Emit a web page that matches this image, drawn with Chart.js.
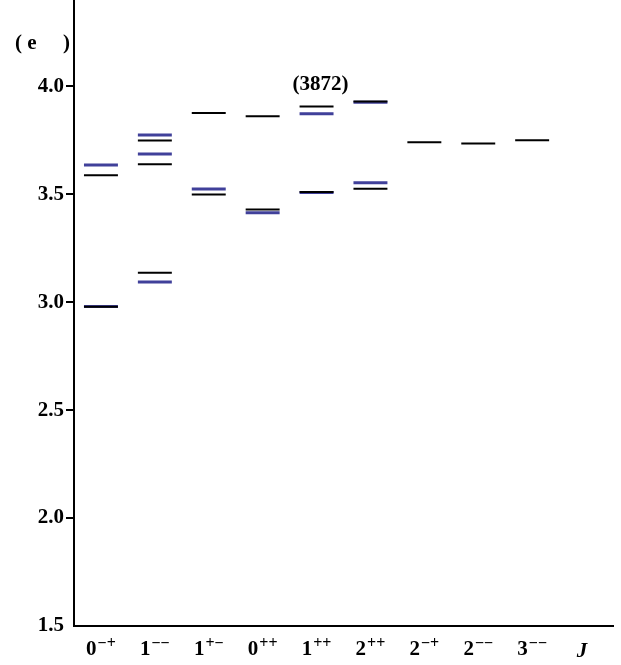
<!DOCTYPE html>
<html>
<head>
<meta charset="utf-8">
<script src="https://cdn.jsdelivr.net/npm/chart.js@4.4.1/dist/chart.umd.min.js"></script>
<style>
html, body { margin: 0; padding: 0; background: #fff; }
</style>
</head>
<body>
<canvas id="spectrum" width="621" height="665"></canvas>
<script>
// J^PC categories: spin followed by P and C signs; last slot holds the axis name
const categories = ['0\u2212+', '1\u2212\u2212', '1+\u2212', '0++', '1++', '2++', '2\u2212+', '2\u2212\u2212', '3\u2212\u2212', 'J'];

// black levels (GeV), one list per category
const blackLevels = [
   [2.979, 3.588],
   [3.136, 3.639, 3.749],
   [3.499, 3.876],
   [3.430, 3.862],
   [3.510, 3.907],
   [3.526, 3.930],
   [3.741],
   [3.735],
   [3.750]
];

// blue levels (GeV)
const blueLevels = [
   [2.980, 3.636],
   [3.094, 3.687, 3.775],
   [3.525],
   [3.414],
   [3.508, 3.873],
   [3.553, 3.926],
   [],
   [],
   []
];

const yTicks = [1.5, 2.0, 2.5, 3.0, 3.5, 4.0];
const note3872 = { label: '(3872)', category: 4, mass: 4.008 };

const HALF = 0.315; // half width of a level line, in category units
const serif = '"Liberation Serif", "Times New Roman", serif';

// every level becomes a short segment, separated by gaps
function segments(levels) {
   let pts = [];
   levels.forEach((list, i) => {
      list.forEach(m => {
         pts.push({ x: i - HALF, y: m });
         pts.push({ x: i + HALF, y: m });
         pts.push({ x: i, y: null });
      });
   });
   return pts;
}

const notes = {
   id: 'notes',
   afterDraw(chart) {
      const c = chart.ctx;
      const xs = chart.scales.x, ys = chart.scales.y;
      const area = chart.chartArea;
      c.save();
      c.fillStyle = '#000';

      // category labels with raised P C signs
      const base = area.bottom + 29;
      categories.forEach((cat, i) => {
         const px = xs.getPixelForValue(i);
         if (cat === 'J') {
            c.font = 'italic bold 21px ' + serif;
            c.textAlign = 'center';
            c.textBaseline = 'alphabetic';
            c.fillText(cat, px - 4, base + 2);
            return;
         }
         const head = cat.charAt(0), sup = cat.slice(1);
         c.font = 'bold 21px ' + serif;
         const wHead = c.measureText(head).width;
         c.font = 'bold 16px ' + serif;
         const wSup = c.measureText(sup).width;
         const x0 = px - (wHead + 1 + wSup) / 2;
         c.textAlign = 'left';
         c.textBaseline = 'alphabetic';
         c.font = 'bold 21px ' + serif;
         c.fillText(head, x0, base);
         c.font = 'bold 16px ' + serif;
         c.fillText(sup, x0 + wHead + 1, base - 7);
      });

      c.font = 'bold 21px ' + serif;
      c.textBaseline = 'middle';
      c.textAlign = 'center';
      c.fillText(note3872.label, xs.getPixelForValue(note3872.category) + 4, ys.getPixelForValue(note3872.mass));
      // unit label (glyphs missing in the original)
      const yU = ys.getPixelForValue(4.2);
      c.textAlign = 'left';
      c.fillText('( e', area.left - 59, yU);
      c.fillText(')', area.left - 11, yU);
      c.restore();
   }
};

const chart = new Chart(document.getElementById('spectrum'), {
   type: 'line',
   data: {
      datasets: [
         {
            label: 'black',
            data: segments(blackLevels),
            borderColor: '#000000',
            borderWidth: 2,
            borderCapStyle: 'butt',
            pointRadius: 0,
            spanGaps: false
         },
         {
            label: 'blue',
            data: segments(blueLevels),
            borderColor: '#40409a',
            borderWidth: 3,
            borderCapStyle: 'butt',
            pointRadius: 0,
            spanGaps: false
         }
      ]
   },
   options: {
      responsive: false,
      animation: false,
      layout: { padding: { top: 0, right: 8, left: 0, bottom: 0 } },
      plugins: {
         legend: { display: false },
         tooltip: { enabled: false }
      },
      scales: {
         x: {
            type: 'linear',
            min: -0.5,
            max: 9.5,
            afterBuildTicks: s => { s.ticks = categories.map((c, i) => ({ value: i })); },
            afterFit: s => { s.height = 39; s.paddingLeft = 0; s.paddingRight = 0; },
            grid: { display: false, drawTicks: false },
            border: { display: true, color: '#000', width: 2 },
            ticks: {
               autoSkip: false,
               maxRotation: 0,
               callback: () => ''
            }
         },
         y: {
            min: 1.5,
            max: 4.4,
            afterBuildTicks: s => { s.ticks = yTicks.map(v => ({ value: v })); },
            afterFit: s => { s.width = 74; s.paddingTop = 0; s.paddingBottom = 0; },
            grid: {
               drawOnChartArea: false,
               drawTicks: true,
               tickLength: 8,
               lineWidth: 2,
               color: ctx => ctx.index === 0 ? 'rgba(0,0,0,0)' : '#000'
            },
            border: { display: true, color: '#000', width: 2 },
            ticks: {
               padding: 2,
               color: '#000',
               font: { family: serif, size: 21, weight: 'bold' },
               callback: v => v.toFixed(1)
            }
         }
      }
   },
   plugins: [notes]
});
</script>
</body>
</html>
